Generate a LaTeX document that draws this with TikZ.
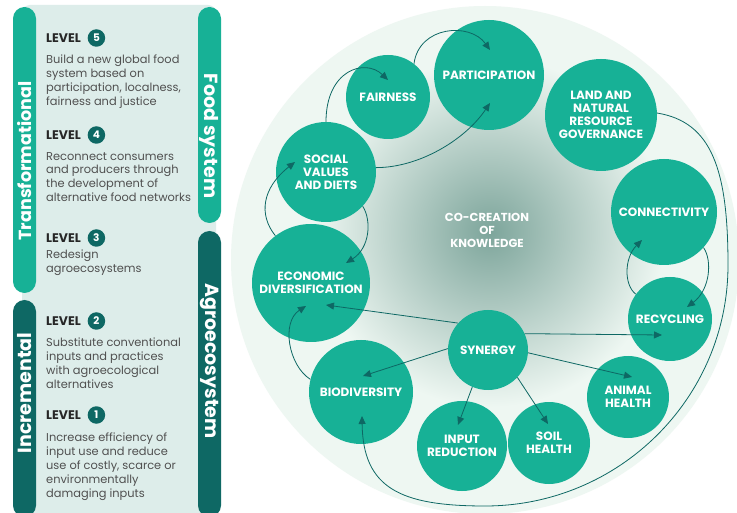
\documentclass[tikz,border=0pt]{standalone}
\usepackage{fontspec}
\setmainfont{Poppins}
\usepackage{xcolor}
\usetikzlibrary{arrows.meta,positioning}
\definecolor{bubblegreen}{HTML}{17B196}
\definecolor{darkteal}{HTML}{0E6864}
\definecolor{panelgray}{HTML}{DDEDEA}
\definecolor{mintbg}{HTML}{EEF7F2}
\definecolor{hazecore}{HTML}{7DA59B}
\definecolor{bodygray}{HTML}{505050}

\begin{document}
\begin{tikzpicture}[x=1pt,y=-1pt,
    bubble/.style={circle,fill=bubblegreen,text=white,inner sep=0pt,align=center,
                   font=\bfseries\fontsize{12}{13.2}\selectfont},
    flow/.style={darkteal,line width=0.8pt,-{Triangle[length=8pt,width=7pt]}},
    levelhead/.style={anchor=west,inner sep=0pt,text=black!85,font=\bfseries\fontsize{12.5}{13}\selectfont},
    levelnum/.style={circle,fill=darkteal,text=white,minimum size=17.5pt,inner sep=0pt,
                     font=\bfseries\fontsize{10.5}{11}\selectfont},
    leveltext/.style={anchor=north west,inner sep=0pt,align=left,text=bodygray,
                      font=\fontsize{11.4}{13.8}\selectfont},
    bartext/.style={text=white,font=\bfseries\fontsize{19}{22}\selectfont}]

  \useasboundingbox (0,0) rectangle (737,513);
  \clip (0,0) rectangle (737,513);
  \fill[white] (0,0) rectangle (737,513);

  \fill[panelgray,rounded corners=8pt] (22,5) rectangle (216,520);
  \fill[bubblegreen,rounded corners=11.5pt] (13,7) rectangle (36,293);
  \fill[darkteal,rounded corners=11.5pt] (13,300) rectangle (36,517);
  \fill[bubblegreen,rounded corners=11.5pt] (198,7) rectangle (221,223);
  \fill[darkteal,rounded corners=11.5pt] (198,231) rectangle (221,517);

  \node[bartext,rotate=90,font=\bfseries\fontsize{17.5}{20}\selectfont] (transf) at (24.5,161) {Transformational};
  \node[bartext,rotate=90] (incr) at (24.5,393) {Incremental};
  \node[bartext,rotate=-90] (foodsys) at (209.5,136) {Food system};
  \node[bartext,rotate=-90] (agroeco) at (209.5,361) {Agroecosystem};

  \node[levelhead] (lv5) at (46,38) {LEVEL};
  \node[levelnum,right=6.5pt of lv5] (n5) {5};
  \node[leveltext] (t5) at (46,54.9) {Build a new global food\\system based on\\participation, localness,\\fairness and justice};

  \node[levelhead] (lv4) at (46,135) {LEVEL};
  \node[levelnum,right=6.5pt of lv4] (n4) {4};
  \node[leveltext] (t4) at (46,151.9) {Reconnect consumers\\and producers through\\the development of\\alternative food networks};

  \node[levelhead] (lv3) at (46,238) {LEVEL};
  \node[levelnum,right=6.5pt of lv3] (n3) {3};
  \node[leveltext] (t3) at (46,249.9) {Redesign\\agroecosystems};

  \node[levelhead] (lv2) at (46,321) {LEVEL};
  \node[levelnum,right=6.5pt of lv2] (n2) {2};
  \node[leveltext] (t2) at (46,337.9) {Substitute conventional\\inputs and practices\\with agroecological\\alternatives};

  \node[levelhead] (lv1) at (46,415) {LEVEL};
  \node[levelnum,right=6.5pt of lv1] (n1) {1};
  \node[leveltext] (t1) at (46,432.9) {Increase efficiency of\\input use and reduce\\use of costly, scarce or\\environmentally\\damaging inputs};

  \fill[mintbg] (485,260) circle (254);
  \shade[inner color=hazecore,outer color=mintbg] (490,232) circle (175);
  \node[text=white,align=center,font=\bfseries\fontsize{11.6}{13}\selectfont] (cocreation) at (487,230) {CO-CREATION\\OF\\KNOWLEDGE};

  \node[bubble,minimum size=110pt] (part) at (489,75) {PARTICIPATION};
  \node[bubble,minimum size=84pt] (fair) at (388,97) {FAIRNESS};
  \node[bubble,minimum size=100pt] (soc) at (326,172) {SOCIAL\\VALUES\\AND DIETS};
  \node[bubble,minimum size=118pt] (eco) at (311,283) {ECONOMIC\\DIVERSIFICATION};
  \node[bubble,minimum size=104pt] (bio) at (361,392) {BIODIVERSITY};
  \node[bubble,minimum size=90pt] (inp) at (462,446) {INPUT\\REDUCTION};
  \node[bubble,minimum size=82pt] (soil) at (549,443) {SOIL\\HEALTH};
  \node[bubble,minimum size=82pt] (anim) at (628,397) {ANIMAL\\HEALTH};
  \node[bubble,minimum size=84pt] (rec) at (670,319) {RECYCLING};
  \node[bubble,minimum size=106pt] (con) at (664,212) {CONNECTIVITY};
  \node[bubble,minimum size=112pt] (land) at (601,115) {LAND AND\\NATURAL\\RESOURCE\\GOVERNANCE};
  \node[bubble,minimum size=80pt] (syn) at (488,350) {SYNERGY};

  \draw[flow] (fair.52) .. controls +(5,-38) and +(-20,-28) .. ([shift={(1,-25)}]part.center);
  \draw[flow] (soc.north) .. controls +(0,-52) and +(-23,-22) .. ([shift={(0,-17)}]fair.center);
  \draw[flow] (soc.5) .. controls +(43,0) and +(-25,37) .. ([shift={(1,28)}]part.center);
  \draw[flow] (eco.127) .. controls +(-17,-21) and +(-33,26) .. ([shift={(-31,-10)}]soc.center);
  \draw[flow] (soc.-43) .. controls +(9,14) and +(24,-15) .. ([shift={(35,-20)}]eco.center);
  \draw[flow] (bio.166) .. controls +(-22,-14) and +(-25,16) .. ([shift={(-5,23)}]eco.center);
  \draw[flow] (syn.138) -- ([shift={(15,22)}]eco.center);
  \draw[flow] (syn.178) -- ([shift={(2,-16)}]bio.center);
  \draw[flow] (syn.-113) -- ([shift={(-4,-21)}]inp.center);
  \draw[flow] (syn.-43) -- ([shift={(-1,-19)}]soil.center);
  \draw[flow] (syn.-4) -- ([shift={(4,-20)}]anim.center);
  \draw[flow] (syn.24) -- ([shift={(-8,16)}]rec.center);
  \draw[flow] (rec.144) .. controls +(-12,-9) and +(-18,18) .. ([shift={(-22,28)}]con.center);
  \draw[flow] (con.-42) .. controls +(9,13) and +(23,-17) .. ([shift={(17,-12)}]rec.center);
  \draw[flow] (land.2) .. controls (712,122) and (728,170) .. (728,265)
                arc[start angle=0,end angle=90,x radius=243,y radius=241]
                .. controls (400,506) and (363,488) .. ([shift={(1,24)}]bio.center);
\end{tikzpicture}
\end{document}
